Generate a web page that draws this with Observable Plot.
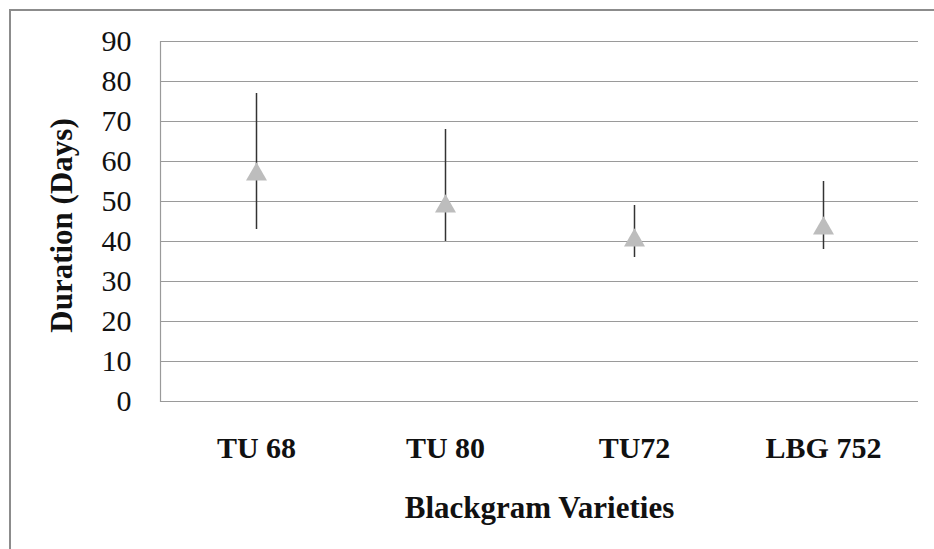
<!DOCTYPE html>
<html>
<head>
<meta charset="utf-8">
<script src="https://cdn.jsdelivr.net/npm/d3@7"></script>
<script src="https://cdn.jsdelivr.net/npm/@observablehq/plot@0.6"></script>
<style>
  html, body { margin: 0; padding: 0; background: #fff; }
  #wrap { position: relative; width: 934px; height: 549px; overflow: hidden; }
  #border { position: absolute; left: 9px; top: 9px; width: 940px; height: 560px;
            border-left: 2px solid #8c8c8c; border-top: 2px solid #8c8c8c; pointer-events: none; }
</style>
</head>
<body>
<div id="wrap"><div id="border"></div></div>
<script>
const varieties = ["TU 68", "TU 80", "TU72", "LBG 752"];
const meanDays = [57.5, 49.5, 41, 44];
const minDays = [43, 40, 36, 38];
const maxDays = [77, 68, 49, 55];
const yTicks = [0, 10, 20, 30, 40, 50, 60, 70, 80, 90];
const xTitle = "Blackgram Varieties";
const yTitle = "Duration (Days)";

const rows = varieties.map((v, i) => ({variety: v, mean: meanDays[i], lo: minDays[i], hi: maxDays[i]}));
const serif = "Liberation Serif, Tinos, Times New Roman, DejaVu Serif, serif";

const chart = Plot.plot({
  width: 934,
  height: 549,
  marginLeft: 160,
  marginRight: 16,
  marginTop: 41,
  marginBottom: 148,
  style: {fontFamily: serif, background: "transparent", color: "#111"},
  x: {type: "point", domain: varieties, padding: 0.5, label: null},
  y: {domain: [0, 90], label: null},
  marks: [
    Plot.ruleY(yTicks, {stroke: "#9a9a9a", strokeWidth: 1.2}),
    Plot.frame({anchor: "left", stroke: "#9a9a9a", strokeWidth: 1.2}),
    Plot.axisY({ticks: yTicks, tickSize: 0, tickPadding: 29, fontSize: 30, fontFamily: serif, label: null}),
    Plot.axisX({tickSize: 0, tickPadding: 35, fontSize: 30, fontWeight: "bold", fontFamily: serif, label: null}),
    Plot.ruleX(rows, {x: "variety", y1: "lo", y2: "hi", stroke: "#333", strokeWidth: 1.5}),
    Plot.dot(rows, {x: "variety", y: "mean", symbol: "triangle", r: 7.8, fill: "#bdbdbd", stroke: "none", dy: 3}),
    Plot.text([yTitle], {frameAnchor: "left", textAnchor: "middle", rotate: -90, dx: -98, dy: 4, fontSize: 31, fontWeight: "bold", fontFamily: serif, fill: "#111"}),
    Plot.text([xTitle], {frameAnchor: "bottom", dy: 116, fontSize: 31, fontWeight: "bold", fontFamily: serif, fill: "#111"})
  ]
});
document.getElementById("wrap").prepend(chart);
</script>
</body>
</html>
